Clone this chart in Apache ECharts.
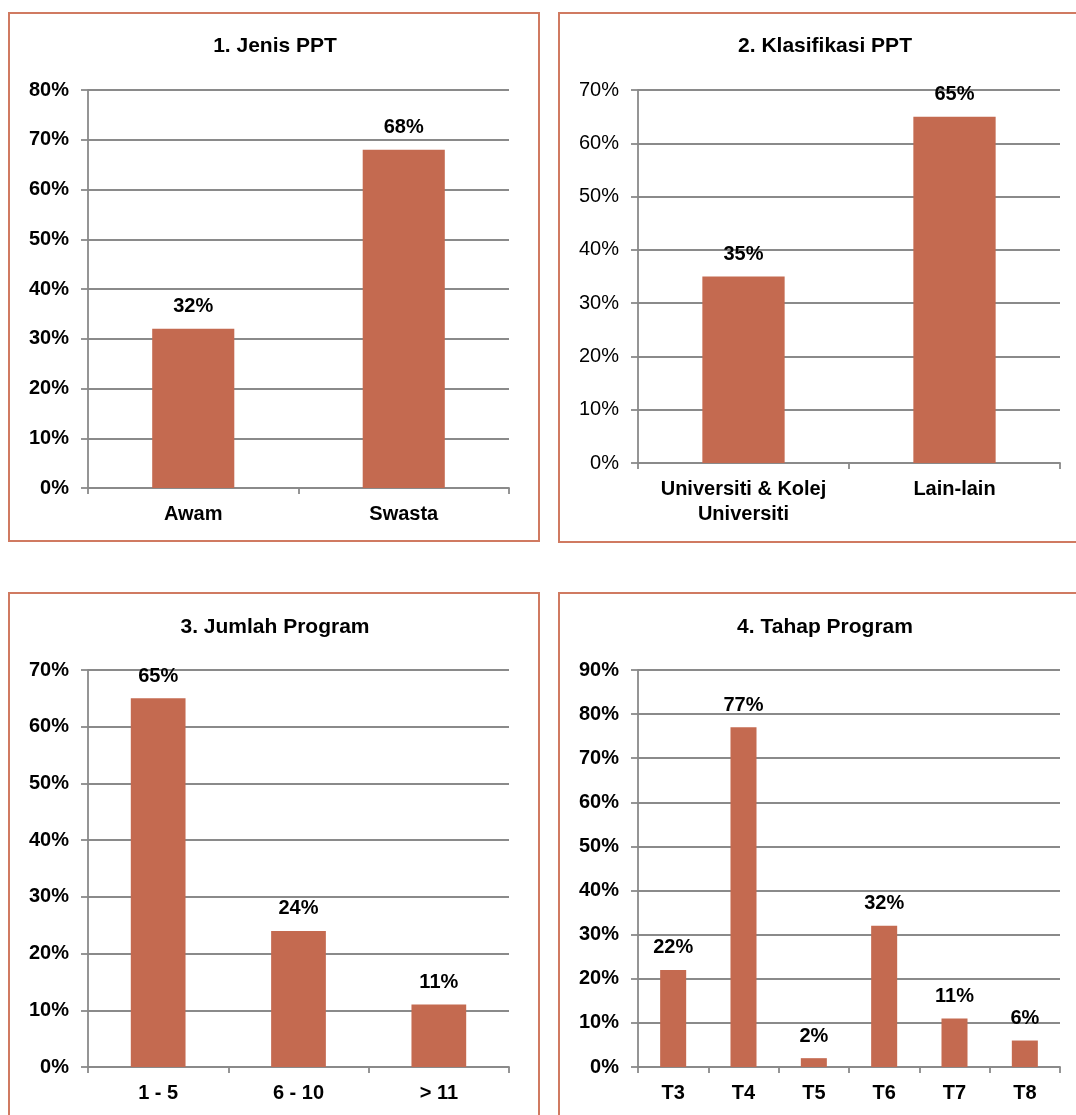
<!DOCTYPE html>
<html><head><meta charset="utf-8">
<script src="https://cdn.jsdelivr.net/npm/echarts@6/dist/echarts.min.js"></script>
<style>html,body{margin:0;padding:0;background:#fff}#c{width:1076px;height:1115px}</style>
</head><body><div id="c"></div>
<script>
const titles = ['1. Jenis PPT', '2. Klasifikasi PPT', '3. Jumlah Program', '4. Tahap Program'];
const cats1 = ['Awam', 'Swasta'];
const vals1 = [32, 68];
const cats2 = ['Universiti & Kolej\nUniversiti', 'Lain-lain'];
const vals2 = [35, 65];
const cats3 = ['1 - 5', '6 - 10', '> 11'];
const vals3 = [65, 24, 11];
const cats4 = ['T3', 'T4', 'T5', 'T6', 'T7', 'T8'];
const vals4 = [22, 77, 2, 32, 11, 6];
const yMax = [80, 70, 70, 90];
const yStep = 10;

const cats = [cats1, cats2, cats3, cats4];
const vals = [vals1, vals2, vals3, vals4];

const FONT = '"Liberation Sans", Arial, sans-serif';
const BAR = '#C46A50';
const GRID_C = '#8A8A8A';
const BORDER = '#D07A61';

const grids = [
  {left: 88, top: 90, width: 421, height: 398},
  {left: 638, top: 90, width: 422, height: 373},
  {left: 88, top: 670, width: 421, height: 397},
  {left: 638, top: 670, width: 422, height: 397}
];
const titlePos = [
  {x: 270, y: 31}, {x: 820, y: 31}, {x: 270, y: 612}, {x: 820, y: 612}
];
const barW = ['39%', '39%', '39%', '37%'];
const yBold = [true, false, true, true];

const lineStyle = {color: GRID_C, width: 1.8};

const option = {
  backgroundColor: '#fff',
  animation: false,
  textStyle: {fontFamily: FONT},
  title: titles.map((t, i) => ({
    text: t, left: titlePos[i].x, top: titlePos[i].y, textAlign: 'center',
    textStyle: {fontFamily: FONT, fontSize: 21, fontWeight: 'bold', color: '#000'}
  })),
  grid: grids.map(g => Object.assign({containLabel: false}, g)),
  xAxis: cats.map((c, i) => ({
    type: 'category', gridIndex: i, data: c,
    axisLine: {show: true, lineStyle: lineStyle},
    axisTick: {show: true, length: 6, alignWithLabel: false, lineStyle: lineStyle},
    axisLabel: {interval: 0, margin: 14, fontFamily: FONT, fontSize: 20, fontWeight: 'bold', color: '#000', lineHeight: 25},
    splitLine: {show: false}
  })),
  yAxis: yMax.map((m, i) => ({
    type: 'value', gridIndex: i, min: 0, max: m, interval: yStep,
    axisLine: {show: true, lineStyle: lineStyle},
    axisTick: {show: true, length: 7, lineStyle: lineStyle},
    axisLabel: {margin: 19, fontFamily: FONT, fontSize: 20, fontWeight: yBold[i] ? 'bold' : 'normal', color: '#000', formatter: '{value}%'},
    splitLine: {show: true, lineStyle: lineStyle}
  })),
  series: vals.map((v, i) => ({
    type: 'bar', xAxisIndex: i, yAxisIndex: i, data: v, barWidth: barW[i],
    itemStyle: {color: BAR},
    label: {show: true, position: 'top', distance: 12, formatter: '{c}%', fontFamily: FONT, fontSize: 20, fontWeight: 'bold', color: '#000'}
  })),
  graphic: [
    {type: 'rect', shape: {x: 9, y: 13, width: 530, height: 528}, style: {fill: 'none', stroke: BORDER, lineWidth: 2}, z: 100},
    {type: 'rect', shape: {x: 559, y: 13, width: 532, height: 529}, style: {fill: 'none', stroke: BORDER, lineWidth: 2}, z: 100},
    {type: 'rect', shape: {x: 9, y: 593, width: 530, height: 540}, style: {fill: 'none', stroke: BORDER, lineWidth: 2}, z: 100},
    {type: 'rect', shape: {x: 559, y: 593, width: 532, height: 540}, style: {fill: 'none', stroke: BORDER, lineWidth: 2}, z: 100}
  ]
};

const chart = echarts.init(document.getElementById('c'), null, {renderer: 'canvas'});
chart.setOption(option);
</script>
</body></html>
